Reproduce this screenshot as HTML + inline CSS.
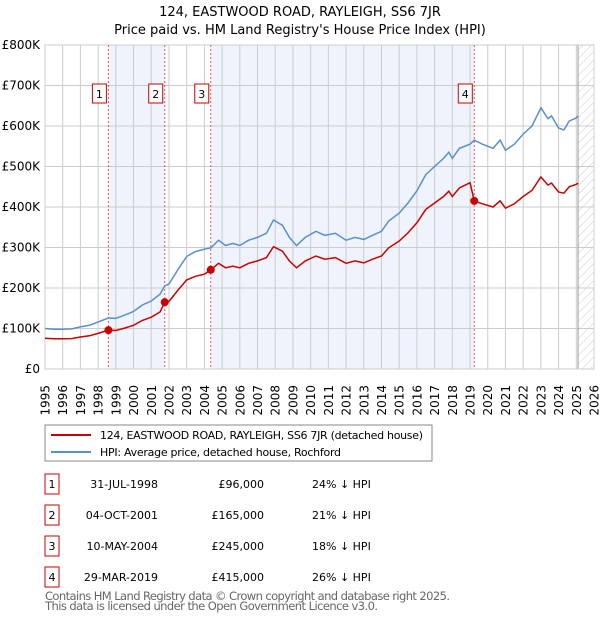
<!DOCTYPE html>
<html><head><meta charset="utf-8"><style>
body{margin:0;background:#fff}
svg{display:block;font-family:"DejaVu Sans","Liberation Sans",sans-serif}
</style></head><body>
<svg id="chart" width="600" height="620" viewBox="0 0 600 620" xmlns="http://www.w3.org/2000/svg">
<defs><pattern id="hatch" width="6" height="6" patternUnits="userSpaceOnUse" patternTransform="rotate(45)"><line x1="0" y1="0" x2="0" y2="6" stroke="#ccc" stroke-width="1"/></pattern></defs>
<text x="300" y="16" text-anchor="middle" font-size="13">124, EASTWOOD ROAD, RAYLEIGH, SS6 7JR</text>
<text x="300" y="34" text-anchor="middle" font-size="13">Price paid vs. HM Land Registry's House Price Index (HPI)</text>
<g id="plot"></g>
<g>
<rect x="45" y="425" width="387" height="36" fill="#fff" stroke="#888"/>
<line x1="51" y1="435" x2="91" y2="435" stroke="#cc0000" stroke-width="2"/>
<text x="100" y="439" font-size="11" textLength="323">124, EASTWOOD ROAD, RAYLEIGH, SS6 7JR (detached house)</text>
<line x1="51" y1="452" x2="91" y2="452" stroke="#5b8fd0" stroke-width="2"/>
<text x="100" y="456" font-size="11" textLength="241">HPI: Average price, detached house, Rochford</text>
</g>
<g id="table" font-size="11"></g>
<text x="45" y="600" font-size="11.5" fill="#666" textLength="405">Contains HM Land Registry data © Crown copyright and database right 2025.</text>
<text x="45" y="610" font-size="11.5" fill="#666" textLength="333">This data is licensed under the Open Government Licence v3.0.</text>
</svg>
<script>
const years=[1995.0,1995.5,1996.0,1996.5,1997.0,1997.5,1998.0,1998.58,1999.0,1999.5,2000.0,2000.5,2001.0,2001.5,2001.76,2002.0,2002.5,2003.0,2003.5,2004.0,2004.36,2004.8,2005.2,2005.6,2006.0,2006.5,2007.0,2007.5,2007.9,2008.4,2008.8,2009.2,2009.7,2010.3,2010.8,2011.4,2012.0,2012.5,2013.0,2013.5,2014.0,2014.4,2015.0,2015.5,2016.0,2016.5,2017.0,2017.5,2017.8,2018.0,2018.4,2019.0,2019.24,2019.7,2020.3,2020.7,2021.0,2021.5,2022.0,2022.5,2023.0,2023.4,2023.6,2024.0,2024.3,2024.6,2025.0,2025.1];
const hpi=[100,98,98,99,104,108,116,126,125,133,142,158,168,185,205,210,245,278,290,296,299,318,305,310,305,318,325,335,368,355,325,305,325,340,330,335,318,325,320,330,340,365,385,410,440,480,500,520,535,520,545,555,565,555,545,565,540,555,580,600,645,618,625,595,590,612,620,625];
const pricePaid=[76,74.5,74.5,75,79,82,88,96,95,101,108,120,128,141,165,167,194,220,229,234,245,261,250,254,250,261,267,275,302,291,267,250,267,279,271,275,261,267,262,271,279,299,316,336,361,394,410,426,439,426,447,460,415,408,400,415,397,408,426,441,474,454,459,437,434,450,456,459];
const saleYears=[1998.58,2001.76,2004.36,2019.24];
const salePrices=[96,165,245,415];
const saleDates=["31-JUL-1998","04-OCT-2001","10-MAY-2004","29-MAR-2019"];
const salePriceLabels=["£96,000","£165,000","£245,000","£415,000"];
const saleDiffs=["24% ↓ HPI","21% ↓ HPI","18% ↓ HPI","26% ↓ HPI"];
const yTicks=[0,100,200,300,400,500,600,700,800];
const yTickLabels=["£0","£100K","£200K","£300K","£400K","£500K","£600K","£700K","£800K"];
const xTicks=[1995,1996,1997,1998,1999,2000,2001,2002,2003,2004,2005,2006,2007,2008,2009,2010,2011,2012,2013,2014,2015,2016,2017,2018,2019,2020,2021,2022,2023,2024,2025,2026];

const NS="http://www.w3.org/2000/svg";
const L=45,R=594,T=45,B=369;
const X=y=>L+(y-1995)/(2026-1995)*(R-L);
const Y=v=>B-v/800*(B-T);
function mk(tag,attrs,parent,text){const e=document.createElementNS(NS,tag);for(const k in attrs)e.setAttribute(k,attrs[k]);if(text!==undefined)e.textContent=text;parent.appendChild(e);return e;}
const plot=document.getElementById('plot');
const s1=mk('rect',{x:X(saleYears[0]),y:T,width:X(saleYears[1])-X(saleYears[0]),height:B-T,fill:'#eef3fc'},plot);


const s2=mk('rect',{x:X(saleYears[2]),y:T,width:X(saleYears[3])-X(saleYears[2]),height:B-T,fill:'#eef3fc'},plot);


const hz=mk('rect',{x:X(2025.1),y:T,width:R-X(2025.1),height:B-T,fill:'url(#hatch)'},plot);


xTicks.forEach((t,i)=>{
 mk('line',{x1:X(t),x2:X(t),y1:T,y2:B,stroke:'#ccc','stroke-width':1},plot);
 const lb=mk('text',{x:0,y:0,'text-anchor':'end','font-size':12,transform:'translate('+(X(t)+4.5)+',385) rotate(-90)'},plot,String(t));
 
 
});
yTicks.forEach((t,i)=>{
 mk('line',{x1:L,x2:R,y1:Y(t),y2:Y(t),stroke:'#ccc','stroke-width':1},plot);
 const lb=mk('text',{x:40,y:Y(t)+4,'text-anchor':'end','font-size':12},plot,yTickLabels[i]);
 
 
});
mk('line',{x1:X(2025.1),x2:X(2025.1),y1:T,y2:B,stroke:'#999','stroke-width':1},plot);
mk('rect',{x:L,y:T,width:R-L,height:B-T,fill:'none',stroke:'#ccc'},plot);
saleYears.forEach((sy,i)=>{
 mk('line',{x1:X(sy),x2:X(sy),y1:T,y2:B,stroke:'#e55','stroke-width':1,'stroke-dasharray':'2,2'},plot);
 const b=mk('rect',{x:X(sy)-16,y:84,width:14,height:19,fill:'#fff',stroke:'#cc0000'},plot);
 
 
 mk('text',{x:X(sy)-9,y:98,'text-anchor':'middle','font-size':11},plot,String(i+1));
});
const pts=a=>a.map((v,i)=>X(years[i]).toFixed(1)+','+Y(v).toFixed(1)).join(' ');
const hl=mk('polyline',{points:pts(hpi),fill:'none',stroke:'#5b8fd0','stroke-width':1.5},plot);


const pl=mk('polyline',{points:pts(pricePaid),fill:'none',stroke:'#cc0000','stroke-width':1.5},plot);


saleYears.forEach((sy,i)=>{
 const c=mk('circle',{cx:X(sy),cy:Y(salePrices[i]),r:4,fill:'#cc0000'},plot);
 
 
});
const tb=document.getElementById('table');
saleDates.forEach((d,i)=>{
 const y=484+i*31;
 const bx=mk('rect',{x:45,y:y-10,width:14,height:20,fill:'#fff',stroke:'#cc0000'},tb);
 
 
 mk('text',{x:52,y:y+4,'text-anchor':'middle'},tb,String(i+1));
 mk('text',{x:158,y:y+4,'text-anchor':'end'},tb,d);
 mk('text',{x:264,y:y+4,'text-anchor':'end'},tb,salePriceLabels[i]);
 mk('text',{x:312,y:y+4},tb,saleDiffs[i]);
});
</script>
</body></html>
